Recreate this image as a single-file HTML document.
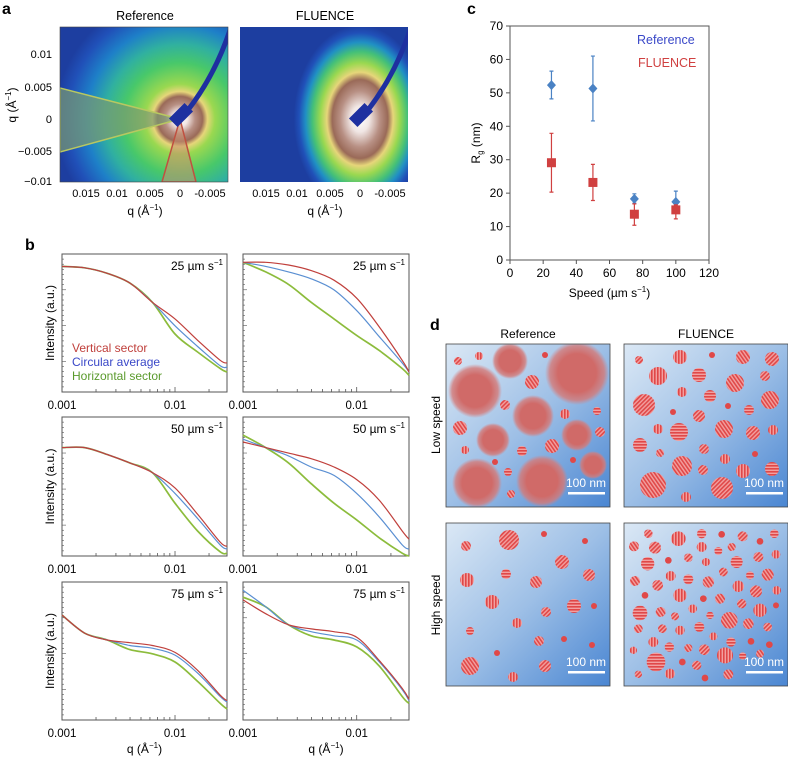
<!DOCTYPE html>
<html><head><meta charset="utf-8"><style>
body{margin:0;background:#fff}
svg{display:block;font-family:"Liberation Sans",sans-serif}
</style></head><body>
<svg id="fig" width="788" height="761" viewBox="0 0 788 761" xmlns="http://www.w3.org/2000/svg">
<defs>
<radialGradient id="gA" gradientUnits="userSpaceOnUse" cx="180" cy="119" r="125">
<stop offset="0" stop-color="#ffffff"/><stop offset="0.06" stop-color="#f2e6e4"/>
<stop offset="0.12" stop-color="#b89084"/><stop offset="0.18" stop-color="#9a6a58"/>
<stop offset="0.22" stop-color="#e6d67a"/><stop offset="0.28" stop-color="#9ad850"/>
<stop offset="0.45" stop-color="#48c86a"/><stop offset="0.6" stop-color="#30b0a0"/>
<stop offset="0.75" stop-color="#1e80c8"/><stop offset="0.9" stop-color="#2050b8"/><stop offset="1" stop-color="#1d3ea0"/>
</radialGradient>
<radialGradient id="gB" gradientUnits="userSpaceOnUse" cx="360" cy="119" r="78" gradientTransform="translate(360 119) scale(0.85 1.2) translate(-360 -119)">
<stop offset="0" stop-color="#ffffff"/><stop offset="0.14" stop-color="#f0e6e4"/>
<stop offset="0.3" stop-color="#b89084"/><stop offset="0.42" stop-color="#9a6a58"/>
<stop offset="0.5" stop-color="#e6d67a"/><stop offset="0.6" stop-color="#9ad850"/>
<stop offset="0.72" stop-color="#44c078"/><stop offset="0.82" stop-color="#2090c4"/>
<stop offset="0.92" stop-color="#2050b8"/><stop offset="1" stop-color="#1d3ea0"/>
</radialGradient>
<linearGradient id="bgD" x1="0" y1="0" x2="1" y2="1">
<stop offset="0" stop-color="#dbe8f5"/><stop offset="0.5" stop-color="#9dbfe6"/><stop offset="1" stop-color="#4a86d2"/>
</linearGradient>
<radialGradient id="blob"><stop offset="0.6" stop-color="#d06a68"/><stop offset="0.85" stop-color="#d47a78" stop-opacity="0.8"/><stop offset="1" stop-color="#d88080" stop-opacity="0"/></radialGradient>
<pattern id="st0" width="3" height="3" patternUnits="userSpaceOnUse" patternTransform="rotate(45)"><rect width="3" height="3" fill="#f2a0a0"/><rect width="1.6" height="3" fill="#e04848"/></pattern>
<pattern id="st1" width="3" height="3" patternUnits="userSpaceOnUse" patternTransform="rotate(0)"><rect width="3" height="3" fill="#f2a0a0"/><rect width="1.6" height="3" fill="#e04848"/></pattern>
<pattern id="st2" width="3" height="3" patternUnits="userSpaceOnUse" patternTransform="rotate(90)"><rect width="3" height="3" fill="#f2a0a0"/><rect width="1.6" height="3" fill="#e04848"/></pattern>
<pattern id="st3" width="3" height="3" patternUnits="userSpaceOnUse" patternTransform="rotate(-35)"><rect width="3" height="3" fill="#f2a0a0"/><rect width="1.6" height="3" fill="#e04848"/></pattern>
<clipPath id="cA"><rect x="60" y="27" width="168" height="155"/></clipPath>
<clipPath id="cB"><rect x="240" y="27" width="168" height="155"/></clipPath>
</defs>

<g>
<text x="2" y="14" font-size="16" font-weight="bold">a</text>
<text x="145" y="20" font-size="12.5" text-anchor="middle">Reference</text>
<text x="325" y="20" font-size="12.5" text-anchor="middle">FLUENCE</text>
<g clip-path="url(#cA)">
<rect x="60" y="27" width="168" height="155" fill="url(#gA)"/>
<path d="M180 119 L60 88 L60 152 Z" fill="#7a9a70" fill-opacity="0.7" stroke="#b8c860" stroke-width="1.5"/>
<path d="M180 119 L162 182 L196 182 Z" fill="#c89070" fill-opacity="0.55" stroke="#c05040" stroke-width="1.5"/>
<path d="M188 110 Q215 75 230 30" stroke="#1e30a0" stroke-width="5" fill="none"/>
<rect x="175" y="104" width="12" height="22" fill="#1e30a0" transform="rotate(45 181 115)"/>
</g>
<rect x="60" y="27" width="168" height="155" fill="none" stroke="#444" stroke-width="0.6"/>
<g clip-path="url(#cB)">
<rect x="240" y="27" width="168" height="155" fill="url(#gB)"/>
<path d="M368 110 Q395 75 410 30" stroke="#1e30a0" stroke-width="5" fill="none"/>
<rect x="355" y="104" width="12" height="22" fill="#1e30a0" transform="rotate(45 361 115)"/>
</g>
<g font-size="11" text-anchor="end">
<text x="52" y="58">0.01</text><text x="52" y="91">0.005</text><text x="52" y="123">0</text><text x="52" y="155">−0.005</text><text x="52" y="185">−0.01</text>
</g>
<g font-size="11" text-anchor="middle">
<text x="86" y="197">0.015</text><text x="117" y="197">0.01</text><text x="150" y="197">0.005</text><text x="180" y="197">0</text><text x="210" y="197">-0.005</text>
<text x="266" y="197">0.015</text><text x="297" y="197">0.01</text><text x="330" y="197">0.005</text><text x="360" y="197">0</text><text x="390" y="197">-0.005</text>
</g>
<text x="145" y="215" font-size="12" text-anchor="middle">q (Å<tspan font-size="8" dy="-5">−1</tspan><tspan dy="5">)</tspan></text>
<text x="325" y="215" font-size="12" text-anchor="middle">q (Å<tspan font-size="8" dy="-5">−1</tspan><tspan dy="5">)</tspan></text>
<text transform="translate(16 105) rotate(-90)" font-size="12" text-anchor="middle">q (Å<tspan font-size="8" dy="-5">−1</tspan><tspan dy="5">)</tspan></text>
</g>

<text x="25" y="250" font-size="16" font-weight="bold">b</text>
<g id="panelB"></g>

<text x="467" y="14" font-size="16" font-weight="bold">c</text>
<g id="panelC"></g>

<text x="430" y="330" font-size="16" font-weight="bold">d</text>
<text x="528" y="338" font-size="12" text-anchor="middle">Reference</text>
<text x="706" y="338" font-size="12" text-anchor="middle">FLUENCE</text>
<text transform="translate(440 425) rotate(-90)" font-size="12" text-anchor="middle">Low speed</text>
<text transform="translate(440 605) rotate(-90)" font-size="12" text-anchor="middle">High speed</text>
<g id="panelD"></g>
</svg>
<script>
const NS="http://www.w3.org/2000/svg";
function mk(tag,attrs,parent){const e=document.createElementNS(NS,tag);for(const k in attrs)e.setAttribute(k,attrs[k]);parent.appendChild(e);return e;}
function smooth(p){let d=`M${p[0][0].toFixed(1)} ${p[0][1].toFixed(1)}`;
 for(let i=0;i<p.length-1;i++){const p0=p[i-1]||p[i],p1=p[i],p2=p[i+1],p3=p[i+2]||p2;
  const c1=[p1[0]+(p2[0]-p0[0])/6,p1[1]+(p2[1]-p0[1])/6],c2=[p2[0]-(p3[0]-p1[0])/6,p2[1]-(p3[1]-p1[1])/6];
  d+=`C${c1[0].toFixed(1)} ${c1[1].toFixed(1)} ${c2[0].toFixed(1)} ${c2[1].toFixed(1)} ${p2[0].toFixed(1)} ${p2[1].toFixed(1)}`;}
 return d;}

/* ---------- Panel b data ---------- */
const bLogQ=[-3,-2.8,-2.6,-2.4,-2.2,-2.0,-1.8,-1.6,-1.54];
const bSpeeds=["25","25","50","50","75","75"];
const bRed=[
 [0.91,0.90,0.86,0.79,0.65,0.53,0.375,0.23,0.21],
 [0.94,0.94,0.92,0.88,0.81,0.68,0.47,0.23,0.145],
 [0.78,0.78,0.73,0.67,0.60,0.49,0.30,0.10,0.07],
 [0.82,0.78,0.74,0.70,0.64,0.55,0.40,0.18,0.12],
 [0.76,0.63,0.58,0.56,0.54,0.49,0.36,0.18,0.14],
 [0.87,0.77,0.69,0.66,0.64,0.60,0.43,0.23,0.15]];
const bBlue=[
 [0.91,0.90,0.86,0.79,0.65,0.48,0.33,0.19,0.18],
 [0.94,0.91,0.87,0.82,0.74,0.59,0.40,0.21,0.145],
 [0.78,0.78,0.73,0.67,0.60,0.45,0.27,0.08,0.05],
 [0.84,0.78,0.72,0.64,0.58,0.45,0.28,0.08,0.05],
 [0.76,0.63,0.58,0.54,0.52,0.47,0.34,0.17,0.13],
 [0.94,0.82,0.69,0.64,0.61,0.58,0.42,0.22,0.14]];
const bGreen=[
 [0.91,0.90,0.86,0.79,0.65,0.42,0.29,0.17,0.145],
 [0.94,0.87,0.78,0.65,0.53,0.41,0.30,0.17,0.12],
 [0.78,0.78,0.73,0.67,0.60,0.38,0.18,0.03,0.02],
 [0.87,0.78,0.67,0.52,0.38,0.26,0.13,0.02,0.0],
 [0.76,0.63,0.58,0.51,0.48,0.42,0.28,0.12,0.08],
 [0.89,0.82,0.69,0.61,0.58,0.53,0.39,0.17,0.12]];
const bXTicks=["0.001","0.01"];

const pB=document.getElementById('panelB');
const colX=[[62,227],[243,409]], rowY=[[254,392],[417,556],[582,720]];
const LQMIN=-3,LQMAX=-1.54;
for(let i=0;i<6;i++){
 const c=i%2,r=Math.floor(i/2);
 const x0=colX[c][0],x1=colX[c][1],y0=rowY[r][0],y1=rowY[r][1];
 const xs=lq=>x0+(lq-LQMIN)/(LQMAX-LQMIN)*(x1-x0);
 const ys=v=>y1-v*(y1-y0);
 const g=mk('g',{},pB);
 
 
 const fr=mk('rect',{x:x0,y:y0,width:x1-x0,height:y1-y0,fill:'none',stroke:'#555','stroke-width':1},g);
 
 for(let d=-3;d<=-2;d++)for(let m=1;m<10;m++){const lq=d+Math.log10(m);if(lq>LQMAX)break;const X=xs(lq);
  mk('line',{x1:X,x2:X,y1:y1,y2:y1-(m===1?5:3),stroke:'#555','stroke-width':0.8},g);}
 for(let k=0;k<28;k++){const Y=y0+k*(y1-y0)/27;mk('line',{x1:x0,x2:x0+(k%7===0?4:2),y1:Y,y2:Y,stroke:'#555','stroke-width':0.6},g);}
 bXTicks.forEach(t=>{const tx=mk('text',{x:xs(Math.log10(parseFloat(t))),y:y1+17,'font-size':11.5,'text-anchor':'middle'},g);tx.textContent=t;
  });
 const sets=[[bGreen[i],'#8cbc3c','horizontal-sector-curve'],[bBlue[i],'#5a8fd2','circular-average-curve'],[bRed[i],'#c0403c','vertical-sector-curve']];
 sets.forEach(s=>{const pts=bLogQ.map((lq,j)=>[xs(lq),ys(s[0][j])]);
  const p=mk('path',{d:smooth(pts),fill:'none',stroke:s[1],'stroke-width':s[1]==='#8cbc3c'?1.7:1.2,'stroke-linejoin':'round'},g);
  });
 const lab=mk('text',{x:x1-4,y:y0+16,'font-size':12,'text-anchor':'end'},g);
 lab.innerHTML=bSpeeds[i]+' µm s<tspan font-size="8" dy="-5">−1</tspan>';
 
 if(c===0){const yt=mk('text',{transform:`translate(54 ${(y0+y1)/2}) rotate(-90)`,'font-size':12,'text-anchor':'middle'},g);
  yt.textContent='Intensity (a.u.)';}
 if(r===2){const qt=mk('text',{x:(x0+x1)/2,y:753,'font-size':12,'text-anchor':'middle'},g);
  qt.innerHTML='q (Å<tspan font-size="8" dy="-5">−1</tspan><tspan dy="5">)</tspan>';
  }
}
const legB=[['Vertical sector','#c0403c',352],['Circular average','#3a48c8',366],['Horizontal sector','#5a9a2c',380]];
legB.forEach(l=>{const t=mk('text',{x:72,y:l[2],'font-size':12,fill:l[1]},pB);t.textContent=l[0];
 });

/* ---------- Panel c data ---------- */
const cSpeed=[25,50,75,100];
const cRefRg=[52.3,51.3,18.3,17.4];
const cRefLo=[48.2,41.6,17.0,16.0];
const cRefHi=[56.5,61.0,19.8,20.6];
const cFlRg=[29.1,23.2,13.7,15.0];
const cFlLo=[20.3,17.8,10.4,12.3];
const cFlHi=[37.9,28.6,16.8,16.5];
const cXTicks=[0,20,40,60,80,100,120];
const cYTicks=[0,10,20,30,40,50,60,70];
const pC=document.getElementById('panelC');
const cx0=510,cx1=709,cy0=26,cy1=260;
const sx=v=>cx0+v/120*(cx1-cx0), sy=v=>cy1-v/70*(cy1-cy0);
const cfr=mk('path',{d:`M${cx0} ${cy0}H${cx1}V${cy1}H${cx0}Z`,fill:'none',stroke:'#555','stroke-width':1},pC);

cXTicks.forEach(t=>{mk('line',{x1:sx(t),x2:sx(t),y1:cy1,y2:cy1+4,stroke:'#555'},pC);
 const tx=mk('text',{x:sx(t),y:cy1+17,'font-size':12,'text-anchor':'middle'},pC);tx.textContent=t;
 });
cYTicks.forEach(t=>{mk('line',{x1:cx0-4,x2:cx0,y1:sy(t),y2:sy(t),stroke:'#555'},pC);
 const tx=mk('text',{x:cx0-7,y:sy(t)+4,'font-size':12,'text-anchor':'end'},pC);tx.textContent=t;
 });
const cxT=mk('text',{x:(cx0+cx1)/2,y:297,'font-size':12,'text-anchor':'middle'},pC);
cxT.innerHTML='Speed (µm s<tspan font-size="8" dy="-5">−1</tspan><tspan dy="5">)</tspan>';

const cyT=mk('text',{transform:'translate(480 143) rotate(-90)','font-size':12,'text-anchor':'middle'},pC);
cyT.innerHTML='R<tspan font-size="8" dy="3">g</tspan><tspan dy="-3"> (nm)</tspan>';

function series(vals,lo,hi,col,shape,name){
 cSpeed.forEach((s,i)=>{const X=sx(s);
  const eb=mk('path',{d:`M${X} ${sy(lo[i])}V${sy(hi[i])}M${X-2} ${sy(lo[i])}h4M${X-2} ${sy(hi[i])}h4`,stroke:col,'stroke-width':1.2,fill:'none'},pC);
  
  const Y=sy(vals[i]);let m;
  if(shape==='d')m=mk('path',{d:`M${X} ${Y-5}L${X+4.5} ${Y}L${X} ${Y+5}L${X-4.5} ${Y}Z`,fill:col},pC);
  else m=mk('rect',{x:X-4.5,y:Y-4.5,width:9,height:9,fill:col},pC);
  });
}
series(cRefRg,cRefLo,cRefHi,'#4a82c4','d','reference');
series(cFlRg,cFlLo,cFlHi,'#d04040','s','fluence');
const l1=mk('text',{x:637,y:44,'font-size':12.5,fill:'#3a48c8'},pC);l1.textContent='Reference';

const l2=mk('text',{x:638,y:67,'font-size':12.5,fill:'#d04040'},pC);l2.textContent='FLUENCE';


/* ---------- Panel d (schematic particles, box-relative) ---------- */
const dTLblobs=[[131,29,29],[29,47,24],[64,17,15],[87,72,18],[47,96,14],[31,139,22],[96,137,23],[131,91,13],[147,121,11]];
const dTLsmall=[[12,17,4],[33,12,4],[99,11,3],[86,38,7],[59,61,5],[119,70,5],[151,67,4],[14,84,7],[154,88,5],[19,106,4],[76,107,5],[106,102,7],[49,118,3],[127,116,3],[62,128,4],[65,150,4]];
const dTR=[[15,16,4],[56,13,7],[88,11,3],[119,13,7],[148,15,7],[34,32,9],[75,31,7],[111,39,9],[141,32,5],[58,48,5],[86,52,6],[146,56,9],[20,61,11],[104,62,3],[125,66,5],[49,68,3],[75,72,6],[34,85,5],[55,88,9],[100,85,9],[129,89,7],[149,86,5],[16,101,7],[36,109,4],[80,105,5],[101,115,5],[131,110,3],[58,122,10],[79,126,5],[119,127,7],[148,125,7],[29,141,13],[98,144,11],[62,153,5]];
const dBL=[[63,17,10],[98,11,3],[139,18,3],[20,23,5],[116,39,7],[21,57,7],[60,51,5],[90,59,6],[143,52,6],[46,79,7],[128,83,7],[148,83,3],[100,89,5],[71,100,5],[24,108,4],[93,118,5],[118,116,3],[146,122,3],[51,130,3],[24,143,9],[99,143,6],[67,154,5]];
const dBRz=[[685,70,13],[775,85,22],[845,70,14],[905,72,10],[968,78,15],[1020,93,10],[1063,70,13],[642,108,15],[705,112,18],[845,110,15],[895,122,12],[935,110,12],[1015,140,15],[1068,132,13],[683,160,20],[745,150,10],[805,142,13],[858,155,12],[950,155,18],[645,212,15],[713,225,16],[752,197,15],[805,207,15],[865,215,17],[910,185,13],[955,228,17],[990,195,12],[1043,193,18],[675,255,10],[780,255,20],[850,265,10],[900,265,15],[1008,243,18],[1070,240,13],[660,308,22],[722,305,15],[765,318,12],[818,295,13],[870,315,11],[928,330,25],[965,280,14],[1020,300,20],[1068,285,9],[655,355,13],[727,355,13],[780,360,14],[838,350,15],[985,340,16],[1043,350,13],[700,395,15],[748,410,14],[805,413,12],[853,418,16],[880,378,12],[933,395,14],[993,393,10],[1048,403,10],[640,420,11],[708,455,28],[787,455,10],[830,465,14],[915,435,24],[968,437,11],[1020,430,12],[655,492,11],[750,490,15],[855,503,10],[925,492,15]];
const dBR=dBRz.map(a=>[(a[0]-612)/3,(a[1]-38)/3,a[2]/3]);
const pD=document.getElementById('panelD');
const boxes=[[446,344,dTLsmall,dTLblobs,'reference-low-speed'],[624,344,dTR,[],'fluence-low-speed'],[446,523,dBL,[],'reference-high-speed'],[624,523,dBR,[],'fluence-high-speed']];
boxes.forEach(b=>{
 const g=mk('g',{},pD);
 const cp='clip'+b[4];const cl=mk('clipPath',{id:cp},g);mk('rect',{x:b[0],y:b[1],width:164,height:163},cl);
 mk('rect',{x:b[0],y:b[1],width:164,height:163,fill:'url(#bgD)'},g);
 const inner=mk('g',{'clip-path':`url(#${cp})`},g);
 b[3].forEach(c=>{const e=mk('circle',{cx:b[0]+c[0],cy:b[1]+c[1],r:c[2]+3,fill:'url(#blob)'},inner);
  });
 b[2].forEach((c,k)=>{const e=mk('circle',{cx:b[0]+c[0],cy:b[1]+c[1],r:c[2],fill:c[2]<=3.5?'#e04848':`url(#st${k%4})`},inner);
  });
 mk('rect',{x:b[0],y:b[1],width:164,height:163,fill:'none',stroke:'#444','stroke-width':0.8},g);
 const sb=mk('rect',{x:b[0]+122,y:b[1]+148,width:37,height:2.5,fill:'#fff'},g);
 
 const st=mk('text',{x:b[0]+140,y:b[1]+143,'font-size':12,fill:'#fff','text-anchor':'middle'},g);st.textContent='100 nm';
 
});
</script>
</body></html>
